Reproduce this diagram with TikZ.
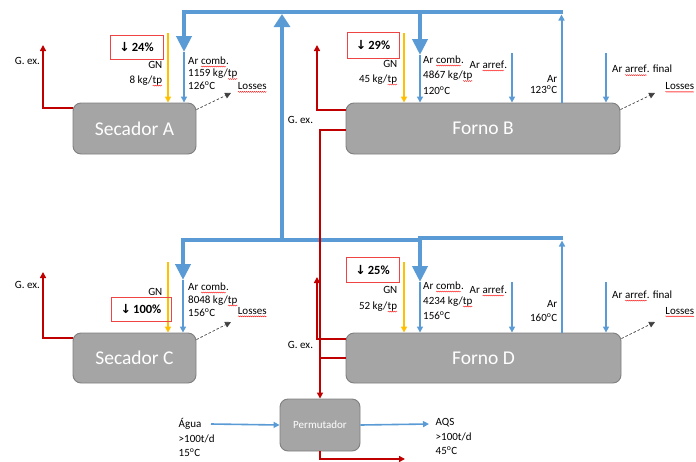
\documentclass[tikz,border=0pt]{standalone}
\usepackage{fontspec}
\setmainfont{Carlito}
\newfontfamily\symfont{DejaVu Sans}
\usetikzlibrary{arrows.meta,calc,decorations.pathmorphing}

\definecolor{flowblue}{HTML}{5B9BD5}
\definecolor{gasred}{HTML}{C00000}
\definecolor{gasyellow}{HTML}{FFC000}
\definecolor{unitgray}{HTML}{A5A5A5}
\definecolor{unitedge}{HTML}{7F7F7F}
\definecolor{tagred}{HTML}{EE4444}

% red wavy underline for flagged words
\newcommand\spell[1]{\tikz[baseline=(spellw.base),x=1pt,y=1pt]{%
  \node[inner sep=0pt,outer sep=0pt] (spellw) {#1};
  \draw[red, line width=0.35pt, decorate,
    decoration={snake, amplitude=0.5pt, segment length=2pt}]
    ([yshift=-2.2pt]spellw.base west) -- ([yshift=-2.2pt]spellw.base east);}}
\newcommand\degC{\textsuperscript{o}C}
\newcommand\down{{\symfont\bfseries ↓}}

\tikzset{
  unit/.style={draw=unitedge, fill=unitgray, rounded corners=8pt, line width=0.9pt,
    text=white, font=\fontsize{19.5}{22}\selectfont, inner sep=0pt},
  hx/.style={draw=unitedge, fill=unitgray, rounded corners=8pt, line width=0.9pt,
    text=white, font=\fontsize{11}{13}\selectfont, inner sep=0pt,
    minimum width=80pt, minimum height=52pt},
  tag/.style={draw=tagred, line width=0.8pt, inner sep=0pt,
    font=\fontsize{12.5}{14}\selectfont\bfseries},
  lbl/.style={font=\fontsize{11}{13}\selectfont, inner sep=0pt},
  bus/.style={flowblue, line width=4.5pt},
  droptip/.style={-{Triangle[length=16pt,width=15pt]}},
  risetip/.style={-{Triangle[length=13pt,width=16pt]}},
  feed/.style={flowblue, line width=2pt, -{Triangle[length=6pt,width=6pt]}},
  fuel/.style={gasyellow, line width=2pt, -{Triangle[length=6pt,width=6pt]}},
  exhaust/.style={gasred, line width=2pt, -{Triangle[length=6pt,width=6pt]}},
  gasline/.style={gasred, line width=2pt},
  loss/.style={black!75, line width=0.7pt, dash pattern=on 2.5pt off 2pt,
    -{Triangle[length=6pt,width=6pt]}},
}

\begin{document}
\begin{tikzpicture}[x=1pt,y=-1pt]
\useasboundingbox (0,0) rectangle (696,461);

% ---------- process units ----------
\node[unit, minimum width=123pt, minimum height=51pt] (secA) at (134.5,128.5) {Secador A};
\node[unit, minimum width=274pt, minimum height=51pt] (fornoB) at (483,128.5) {Forno B};
\node[unit, minimum width=123pt, minimum height=50pt] (secC) at (134.5,358) {Secador C};
\node[unit, minimum width=275pt, minimum height=50pt] (fornoD) at (483.5,358) {Forno D};
\node[hx] (permut) at (320,425) {Permutador};

% ---------- free ends ----------
\coordinate (busTL) at (184,12);
\coordinate (busTR) at (563,12);
\coordinate (busTM) at (420,12);
\coordinate (combA) at (184,52);
\coordinate (combB) at (420,55);
\coordinate (riseB) at (561.5,14.5);
\coordinate (trunkTop) at (282,14);
\coordinate (trunkBot) at (282,240);
\coordinate (busBL) at (183,240);
\coordinate (busBM) at (420,240);
\coordinate (busBMr) at (420,238);
\coordinate (busBR) at (563,238);
\coordinate (combC) at (183,280);
\coordinate (combD) at (420,282);
\coordinate (riseD) at (562,240.5);
\coordinate (coolB) at (512,53);
\coordinate (finalB) at (606,53);
\coordinate (coolD) at (512,282);
\coordinate (finalD) at (606,282);
\coordinate (gnA) at (168,33);
\coordinate (gnB) at (404,33);
\coordinate (gnC) at (168,262);
\coordinate (gnD) at (404,262);
\coordinate (gexA) at (43,45);
\coordinate (gexB) at (317,45);
\coordinate (gexC) at (43,272);
\coordinate (gexD) at (317,277);
\coordinate (drain) at (405,459);
\coordinate (lossA) at (231,93);
\coordinate (lossB) at (655,93);
\coordinate (lossC) at (231,322);
\coordinate (lossD) at (655,322);
\coordinate (waterIn) at (211,424);
\coordinate (waterOut) at (429,424);

% ---------- combustion air network ----------
\draw[bus, risetip] (trunkBot) -- (trunkTop);
\draw[bus, droptip] (busTR) -- (busTL) -- (combA);
\draw[bus, droptip] (busTM) -- (combB);
\draw[bus, droptip] (busBM) -- (busBL) -- (combC);
\draw[bus, droptip] (busBR) -- (busBMr) -- (combD);

\draw[feed] (combA) -- (combA |- secA.north);
\draw[feed] (combB) -- (combB |- fornoB.north);
\draw[feed] (combC) -- (combC |- secC.north);
\draw[feed] (combD) -- (combD |- fornoD.north);
\draw[feed] (riseB |- fornoB.north) -- (riseB);
\draw[feed] (riseD |- fornoD.north) -- (riseD);
\draw[feed] (coolB) -- (coolB |- fornoB.north);
\draw[feed] (finalB) -- (finalB |- fornoB.north);
\draw[feed] (coolD) -- (coolD |- fornoD.north);
\draw[feed] (finalD) -- (finalD |- fornoD.north);

% ---------- natural gas ----------
\draw[fuel] (gnA) -- (gnA |- secA.north);
\draw[fuel] (gnB) -- (gnB |- fornoB.north);
\draw[fuel] (gnC) -- (gnC |- secC.north);
\draw[fuel] (gnD) -- (gnD |- fornoD.north);

% ---------- savings tags ----------
\node[tag, minimum width=53pt, minimum height=24pt] (tagA) at (136.5,47) {\down\,24\%};
\node[tag, minimum width=52pt, minimum height=26pt] (tagB) at (373,45) {\down\,29\%};
\node[tag, minimum width=60pt, minimum height=24pt] (tagC) at (141,309) {\down\,100\%};
\node[tag, minimum width=53pt, minimum height=25pt] (tagD) at (372.5,269.5) {\down\,25\%};

% ---------- exhaust gases ----------
\draw[exhaust] ($(secA.north west)+(0,5)$) -| (gexA);
\draw[exhaust] ($(secC.north west)+(0,5)$) -| (gexC);
\draw[exhaust] ($(fornoB.north west)+(0,7)$) -| (gexB);
\draw[exhaust] ($(fornoD.north west)+(0,6)$) -| (gexD);
\draw[exhaust] ($(fornoB.west)+(0,1.5)$) -| (permut.north);
\draw[gasline] (fornoD.west) -- (fornoD.west -| permut.north);
\draw[exhaust] (permut.south) |- (drain);

% ---------- losses ----------
\draw[loss] ($(secA.north east)+(0,7)$) -- (lossA);
\draw[loss] ($(fornoB.north east)+(0,7)$) -- (lossB);
\draw[loss] ($(secC.north east)+(0,7)$) -- (lossC);
\draw[loss] ($(fornoD.north east)+(0,6)$) -- (lossD);

% ---------- water through heat exchanger ----------
\draw[feed, line width=1.6pt] (waterIn) -- (permut.west);
\draw[feed, line width=1.6pt] (permut.east) -- (waterOut);

% ---------- labels: Secador A ----------
\node[lbl] (gexAt) at (27.5,61) {G. ex.};
\node[lbl, align=right, anchor=north east, font=\fontsize{11}{14.5}\selectfont] (gnAt) at (162.5,61.5) {GN\\8 kg/\spell{tp}};
\node[lbl, align=left, anchor=north west, font=\fontsize{11}{12.5}\selectfont] (airAt) at (188,56.5) {Ar \spell{comb}.\\1159 kg/\spell{tp}\\126\degC};
\node[lbl, anchor=west] (lossAt) at (237.5,87.5) {\spell{Losses}};

% ---------- labels: Forno B ----------
\node[lbl] (gexBt) at (300.5,119.5) {G. ex.};
\node[lbl, align=right, anchor=north east, font=\fontsize{11}{15}\selectfont] (gnBt) at (397.5,60) {GN\\45 kg/\spell{tp}};
\node[lbl, align=left, anchor=north west, font=\fontsize{11}{15.5}\selectfont] (airBt) at (423,55.5) {Ar \spell{comb}.\\4867 kg/\spell{tp}\\120\degC};
\node[lbl, anchor=west] (coolBt) at (469.5,66) {Ar \spell{arref}.};
\node[lbl, align=right, anchor=north east, font=\fontsize{11}{11.5}\selectfont] (hotBt) at (557.5,75) {Ar\\123\degC};
\node[lbl, anchor=west] (finalBt) at (612,70.5) {Ar \spell{arref}. final};
\node[lbl, anchor=west] (lossBt) at (665,87.5) {\spell{Losses}};

% ---------- labels: Secador C ----------
\node[lbl] (gexCt) at (27.5,285) {G. ex.};
\node[lbl, anchor=east] (gnCt) at (162.5,292) {GN};
\node[lbl, align=left, anchor=north west, font=\fontsize{11}{13}\selectfont] (airCt) at (188,282.5) {Ar \spell{comb}.\\8048 kg/\spell{tp}\\156\degC};
\node[lbl, anchor=west] (lossCt) at (237.5,312) {\spell{Losses}};

% ---------- labels: Forno D ----------
\node[lbl] (gexDt) at (300.5,345) {G. ex.};
\node[lbl, align=right, anchor=north east, font=\fontsize{11}{16}\selectfont] (gnDt) at (397.5,286) {GN\\52 kg/\spell{tp}};
\node[lbl, align=left, anchor=north west, font=\fontsize{11}{15}\selectfont] (airDt) at (423,281.5) {Ar \spell{comb}.\\4234 kg/\spell{tp}\\156\degC};
\node[lbl, anchor=west] (coolDt) at (469.5,291) {Ar \spell{arref}.};
\node[lbl, align=right, anchor=north east, font=\fontsize{11}{14}\selectfont] (hotDt) at (557.5,300) {Ar\\160\degC};
\node[lbl, anchor=west] (finalDt) at (612,296) {Ar \spell{arref}. final};
\node[lbl, anchor=west] (lossDt) at (665,312) {\spell{Losses}};

% ---------- labels: water ----------
\node[lbl, align=left, anchor=north west, font=\fontsize{11}{14.5}\selectfont] (aguaT) at (178.5,418.5) {Água\\>100t/d\\15\degC};
\node[lbl, align=left, anchor=north west, font=\fontsize{11}{14.5}\selectfont] (aqsT) at (435.5,418.5) {AQS\\>100t/d\\45\degC};

\end{tikzpicture}
\end{document}
